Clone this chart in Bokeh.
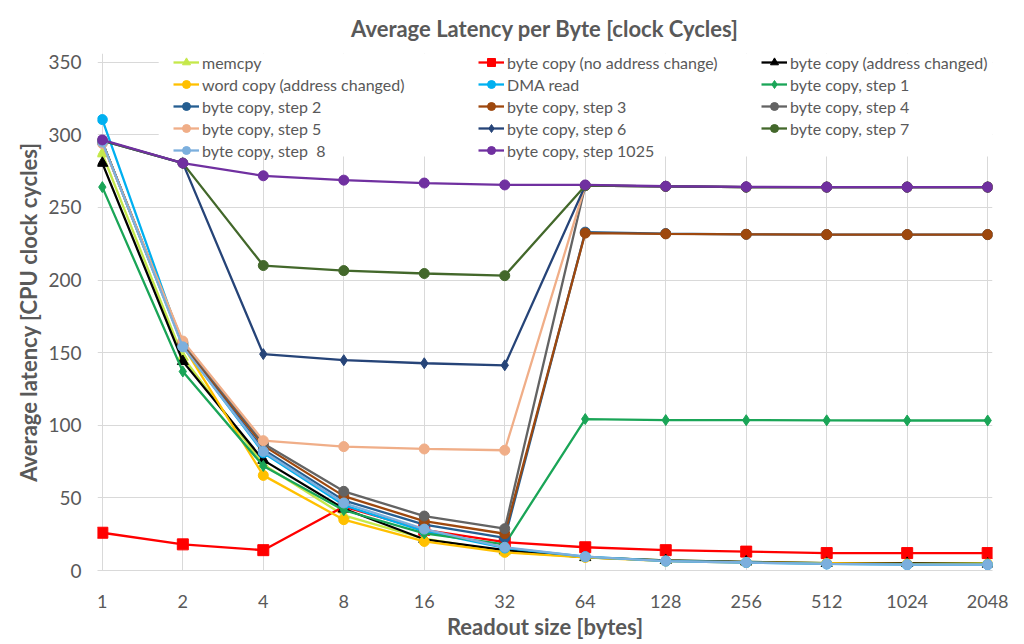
from bokeh.plotting import figure
from bokeh.models import Legend, LegendItem, FixedTicker, BoxAnnotation, Range1d
from bokeh.embed import file_html
from bokeh.resources import INLINE

# ---------------- data ----------------
sizes = ["1", "2", "4", "8", "16", "32", "64", "128", "256", "512", "1024", "2048"]

memcpy = [287, 147, 73, 38, 22, 13, 9, 7, 6, 5, 5, 5]
byte_no_addr = [26, 18, 14, 44, 28, 19.5, 16, 14, 13, 12, 12, 12]
byte_addr = [280.5, 144, 76, 42.5, 21.5, 14, 9, 7, 6, 5, 5, 4.5]
word_copy = [295, 155, 65.5, 35, 20, 12.5, 9, 6.5, 5.5, 5, 4.5, 4.5]
dma_read = [310.5, 154.5, 81, 45, 27, 15.5, 9.5, 6.5, 5.5, 4.5, 4, 4]
step1 = [264, 137, 72, 41.5, 25.5, 18, 104.3, 103.6, 103.5, 103.4, 103.3, 103.3]
step2 = [295, 155, 83.3, 48.3, 31.6, 22.4, 233, 232, 231.5, 231.3, 231.3, 231.3]
step3 = [295, 156, 86, 51.2, 34, 25.3, 232.3, 231.8, 231.5, 231.3, 231.3, 231.3]
step4 = [295, 157, 87.5, 54.5, 37.5, 28.8, 265, 264.5, 264, 264, 264, 264]
step5 = [294, 158, 89.4, 85.3, 83.7, 82.8, 265, 264.5, 264, 264, 264, 264]
step6 = [296, 280.5, 149, 144.8, 142.7, 141.3, 265, 264.5, 264, 264, 264, 264]
step7 = [296, 280.5, 210, 206.5, 204.5, 203, 265, 264.5, 264, 264, 264, 264]
step8 = [295, 154, 82, 46.5, 28.5, 16, 9.5, 6.5, 5.5, 4.5, 4, 4]
step1025 = [296.5, 280.5, 271.8, 268.8, 266.8, 265.5, 265.5, 264.6, 264.2, 264, 264, 264]

labels = ["memcpy", "byte copy (no address change)", "byte copy (address changed)",
          "word copy (address changed)", "DMA read", "byte copy, step 1",
          "byte copy, step 2", "byte copy, step 3", "byte copy, step 4",
          "byte copy, step 5", "byte copy, step 6", "byte copy, step 7",
          "byte copy, step  8", "byte copy, step 1025"]
values = [memcpy, byte_no_addr, byte_addr, word_copy, dma_read, step1, step2, step3,
          step4, step5, step6, step7, step8, step1025]
colors = ["#C5E84A", "#FF0000", "#000000", "#FFC000", "#00B0F0", "#1AA557",
          "#255E91", "#9E480E", "#636363", "#F0AE88", "#264478", "#43682B",
          "#7CAFDD", "#7030A0"]
markers = ["triangle", "square", "triangle", "circle", "circle", "diamond",
           "circle", "circle", "circle", "circle", "diamond", "circle",
           "circle", "circle"]
msizes = {"triangle": 11, "square": 11, "circle": 10, "diamond": 11}

FONT = "Lato"
TXT = "#595959"
GRID = "#D9D9D9"

x = list(range(len(sizes)))

p = figure(width=1022, height=642, output_backend="svg", toolbar_location=None,
           x_range=Range1d(-0.06, 11.06), y_range=Range1d(0, 356),
           min_border_left=97, min_border_right=30, min_border_top=53, min_border_bottom=70)
p.outline_line_color = None
p.background_fill_color = "white"

p.title.text = "Average Latency per Byte [clock Cycles]"
p.title.align = "center"
p.title.text_font = FONT
p.title.text_font_size = "22px"
p.title.text_font_style = "bold"
p.title.text_color = TXT
p.title.standoff = 24

p.xaxis.ticker = FixedTicker(ticks=x)
p.xaxis.major_label_overrides = {i: s for i, s in enumerate(sizes)}
p.yaxis.ticker = FixedTicker(ticks=[0, 50, 100, 150, 200, 250, 300, 350])

for ax in (p.xaxis[0], p.yaxis[0]):
    ax.major_tick_line_color = None
    ax.minor_tick_line_color = None
    ax.major_label_text_font = FONT
    ax.major_label_text_font_size = "18px"
    ax.major_label_text_color = TXT
    ax.axis_label_text_font = FONT
    ax.axis_label_text_font_size = "22px"
    ax.axis_label_text_font_style = "bold"
    ax.axis_label_text_color = TXT
    ax.major_tick_in = 0
    ax.major_tick_out = 0

p.yaxis.major_label_text_font_size = "19px"
p.xaxis.axis_label = "Readout size [bytes]"
p.yaxis.axis_label = "Average latency [CPU clock cycles]"
p.xaxis.axis_line_color = GRID
p.yaxis.axis_line_color = None
p.xaxis.major_label_standoff = 24
p.yaxis.major_label_standoff = 16
p.xaxis.axis_label_standoff = 2
p.yaxis.axis_label_standoff = 3

p.xgrid.grid_line_color = GRID
p.ygrid.grid_line_color = GRID
p.xgrid.grid_line_width = 1
p.ygrid.grid_line_width = 1

# white area behind the legend (hides gridlines)
p.add_layout(BoxAnnotation(left=0.7, right=11.06, bottom=285, top=356,
                           fill_color="white", fill_alpha=1.0, line_color=None,
                           level="underlay"))

items = []
for lab, vals, col, mk in zip(labels, values, colors, markers):
    lr = p.line(x, vals, line_color=col, line_width=2.3)
    sr = p.scatter(x, vals, marker=mk, size=msizes[mk], fill_color=col, line_color=col)
    items.append(LegendItem(label=lab, renderers=[lr, sr]))

cols = [items[0::3], items[1::3], items[2::3]]
xpos = [76, 381, 664]
for ci, its in enumerate(cols):
    n = len(its)
    h = n * 20 + (n - 1) * 2
    bottom = 572 - (54 + h)
    leg = Legend(items=its, location=(xpos[ci], bottom), orientation="vertical")
    leg.background_fill_alpha = 0
    leg.border_line_alpha = 0
    leg.padding = 0
    leg.margin = 0
    leg.spacing = 2
    leg.glyph_width = 26
    leg.glyph_height = 20
    leg.label_height = 20
    leg.label_standoff = 3
    leg.label_text_font = FONT
    leg.label_text_font_size = "16px"
    leg.label_text_color = TXT
    leg.click_policy = "none"
    p.add_layout(leg)

open("out.html", "w").write(file_html(p, INLINE))
